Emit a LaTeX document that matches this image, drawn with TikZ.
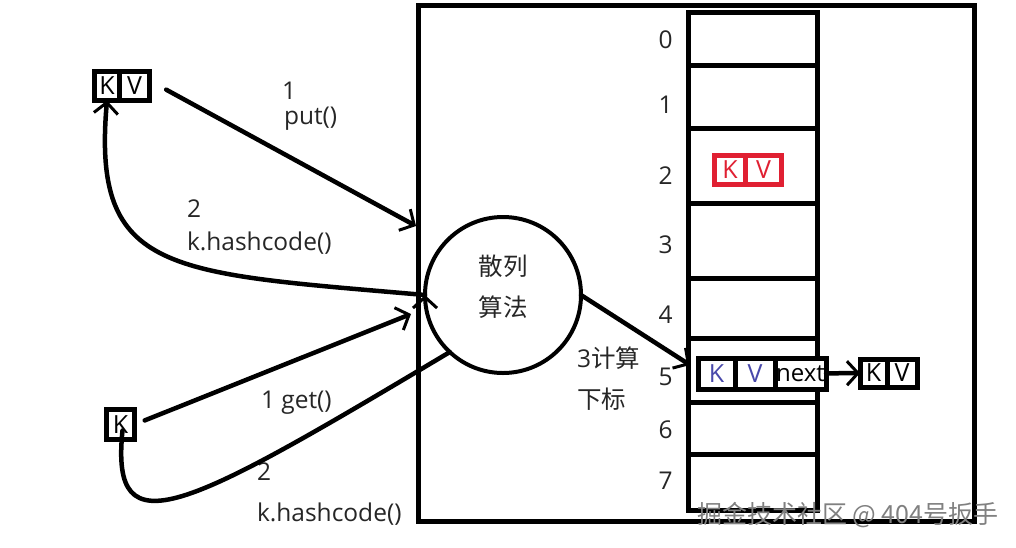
\documentclass[tikz,border=0pt]{standalone}
\usepackage{fontspec}
\setmainfont{Open Sans}
\newfontfamily\cjk{Noto Sans CJK SC}
\usetikzlibrary{arrows.meta}
\usetikzlibrary{positioning}
\definecolor{kvblue}{RGB}{72,72,170}
\definecolor{kvred}{RGB}{224,32,50}
\tikzset{
  every node/.style={inner sep=0pt,outer sep=0pt},
  slot/.style={draw,line width=5pt,minimum width=129pt},
  kvcell/.style={draw,line width=5pt,fill=white,minimum height=29pt,font=\fontsize{25}{27}\selectfont},
  note/.style={font=\fontsize{24.5}{26}\selectfont,text=black!85},
  link/.style={line width=4.5pt,line cap=round,-{Straight Barb[length=11pt,width=24pt,line width=3pt]}}
}
\begin{document}
\begin{tikzpicture}[x=1pt,y=-1pt]
  \useasboundingbox (0,0) rectangle (1016,547);

  \node [draw,line width=5pt,minimum width=556pt,minimum height=516pt] (frame) at (696,263.5) {};

  % table
  \node [slot,minimum height=53pt] (s0) at (752.5,39) {};
  \node [slot,minimum height=63pt,below=0pt of s0] (s1) {};
  \node [slot,minimum height=75pt,below=0pt of s1] (s2) {};
  \node [slot,minimum height=75pt,below=0pt of s2] (s3) {};
  \node [slot,minimum height=60pt,below=0pt of s3] (s4) {};
  \node [slot,minimum height=64pt,below=0pt of s4] (s5) {};
  \node [slot,minimum height=52pt,below=0pt of s5] (s6) {};
  \node [slot,minimum height=56pt,below=0pt of s6] (s7) {};

  \foreach \idx/\ypos in {0/40,1/105,2/176,3/245,4/315,5/377,6/430,7/481}
    \node [note] (i\idx) at (665.5,\ypos) {\idx};

  % red entry
  \node [kvcell,draw=kvred,text=kvred,minimum width=31pt] (red_k) at (730,169.5) {K};
  \node [kvcell,draw=kvred,text=kvred,minimum width=36pt,right=0pt of red_k] (red_v) {V\hspace{10pt}};

  % chained entry
  \node [kvcell,text=kvblue,minimum width=37pt,minimum height=31pt] (blue_k) at (716.5,373.5) {K};
  \node [kvcell,text=kvblue,minimum width=40pt,minimum height=31pt,right=0pt of blue_k] (blue_v) {V};
  \node [kvcell,font=\fontsize{24}{26}\selectfont,minimum width=51pt,minimum height=31pt,right=0pt of blue_v] (blue_n) {next};
  \node [kvcell,minimum width=27pt,minimum height=28pt] (tail_k) at (873.5,373) {K};
  \node [kvcell,minimum width=30pt,minimum height=28pt,right=0pt of tail_k] (tail_v) {V\hspace{5pt}};

  % hash
  \node [circle,draw,line width=4pt,fill=white,minimum size=156pt] (hash) at (503,295) {};
  \node [note] (hash_a) at (503,266) {\cjk 散列};
  \node [note] (hash_b) at (503,307) {\cjk 算法};

  % put side
  \node [kvcell,minimum width=25pt] (kv_k) at (107,86) {K};
  \node [kvcell,minimum width=30pt,right=0pt of kv_k] (kv_v) {V\hspace{6pt}};
  \node [note,anchor=west] (put_a) at (282,91) {1};
  \node [note,anchor=west] (put_b) at (284,119) {put()};
  \node [note,anchor=west] (hc_a) at (187,209) {2};
  \node [note,anchor=west] (hc_b) at (187,243) {k.hashcode()};

  % get side
  \node [kvcell,minimum width=28pt,minimum height=30pt] (k_q) at (120.5,424.5) {K};
  \node [note,anchor=west] (get_a) at (261,403) {1 get()};
  \node [note,anchor=west] (gh_a) at (257,472) {2};
  \node [note,anchor=west] (gh_b) at (257,514) {k.hashcode()};

  \node [note,anchor=west] (calc_a) at (577,358) {3{\cjk 计算}};
  \node [note,anchor=west] (calc_b) at (577,399) {\cjk 下标};

  \coordinate (put_end) at (416,226);
  \coordinate (get_end) at (411,314);
  \coordinate (idx_end) at (690,365);

  \path [draw,link]
    (kv_v.20)   edge [shorten <=19pt] (put_end)
    (k_q.east)  edge [shorten <=11pt] (get_end)
    (hash.east) edge (idx_end)
    (blue_n)    edge (tail_k)
    (hash.west) edge [out=175,in=-95,out distance=257pt,in distance=175pt] (kv_k.south);

  \draw [line width=4.5pt,line cap=round] (k_q.center) ++(2,6) coordinate (k_tail)
    (k_tail) .. controls (110,552) and (185,510) .. (hash.227);

  \node [anchor=west,text=black!50,font=\cjk\fontsize{25}{27}\selectfont] (mark) at (697,515) {掘金技术社区 @ 404号扳手};
\end{tikzpicture}
\end{document}
